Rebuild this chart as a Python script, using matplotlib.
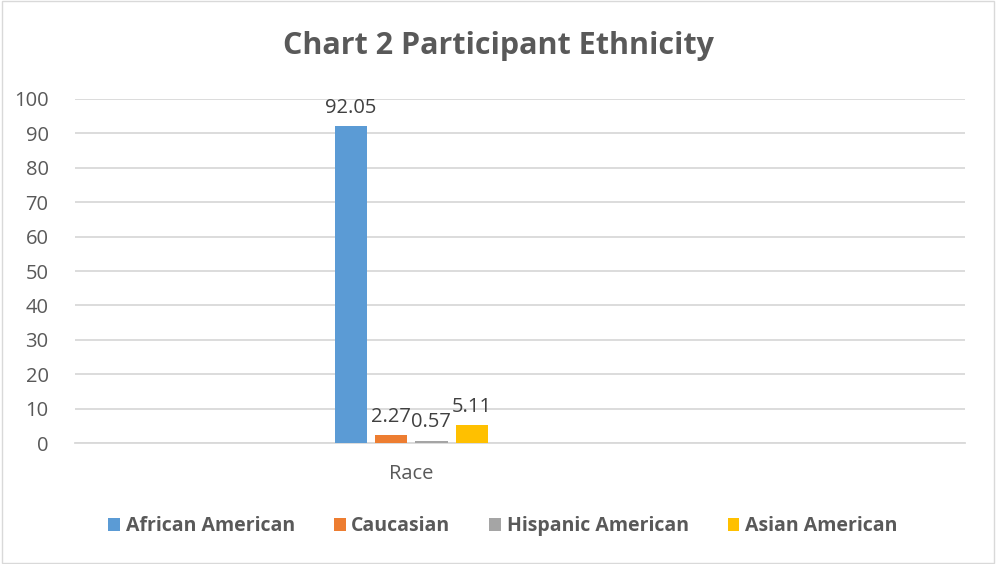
import numpy as np
import matplotlib.pyplot as plt
from matplotlib.patches import Rectangle

categories = ['Race']
series = ['African American', 'Caucasian', 'Hispanic American', 'Asian American']
values = [92.05, 2.27, 0.57, 5.11]
colors = ['#5B9BD5', '#ED7D31', '#A5A5A5', '#FFC000']

plt.rcParams['font.family'] = ['Open Sans', 'DejaVu Sans']

fig = plt.figure(figsize=(9.96, 5.64), dpi=100)
ax = fig.add_axes([0.0753, 0.2145, 0.8936, 0.61])

step = 0.2
width = 0.16
x0 = np.arange(len(categories))
for i, (name, v, c) in enumerate(zip(series, values, colors)):
    xpos = x0 + (i - 1.5) * step
    bars = ax.bar(xpos, [v], width=width, color=c, label=name, zorder=3)
    for b in bars:
        ax.text(b.get_x() + b.get_width() / 2, b.get_height() + 2.5, '{:.2f}'.format(v),
                ha='center', va='bottom', fontsize=14.5, color='#404040')

ax.set_xlim(-1.67, 2.75)
ax.set_ylim(0, 100)
ax.set_yticks(np.arange(0, 101, 10))
ax.set_xticks(x0)
ax.set_xticklabels(categories)
ax.tick_params(axis='both', length=0, labelsize=14.5, colors='#595959')
ax.tick_params(axis='y', pad=19)
ax.tick_params(axis='x', pad=15)
ax.grid(axis='y', color='#D9D9D9', linewidth=1.3, zorder=0)
for s in ['top', 'right', 'left']:
    ax.spines[s].set_visible(False)
ax.spines['bottom'].set_color('#D9D9D9')
ax.spines['bottom'].set_linewidth(1.3)

fig.text(0.5, 0.918, 'Chart 2 Participant Ethnicity', ha='center', va='center',
         fontsize=22, fontweight='bold', color='#595959')

leg = fig.legend(loc='center', bbox_to_anchor=(0.505, 0.067), ncol=4, frameon=False,
                 handlelength=0.6, handleheight=0.6, handletextpad=0.3, columnspacing=2.0,
                 prop={'size': 14, 'weight': 'bold'})
for t in leg.get_texts():
    t.set_color('#595959')

fig.patches.append(Rectangle((0.002, 0.002), 0.996, 0.996, transform=fig.transFigure,
                             fill=False, edgecolor='#D9D9D9', linewidth=1))

fig.savefig('out.png', dpi=100)
